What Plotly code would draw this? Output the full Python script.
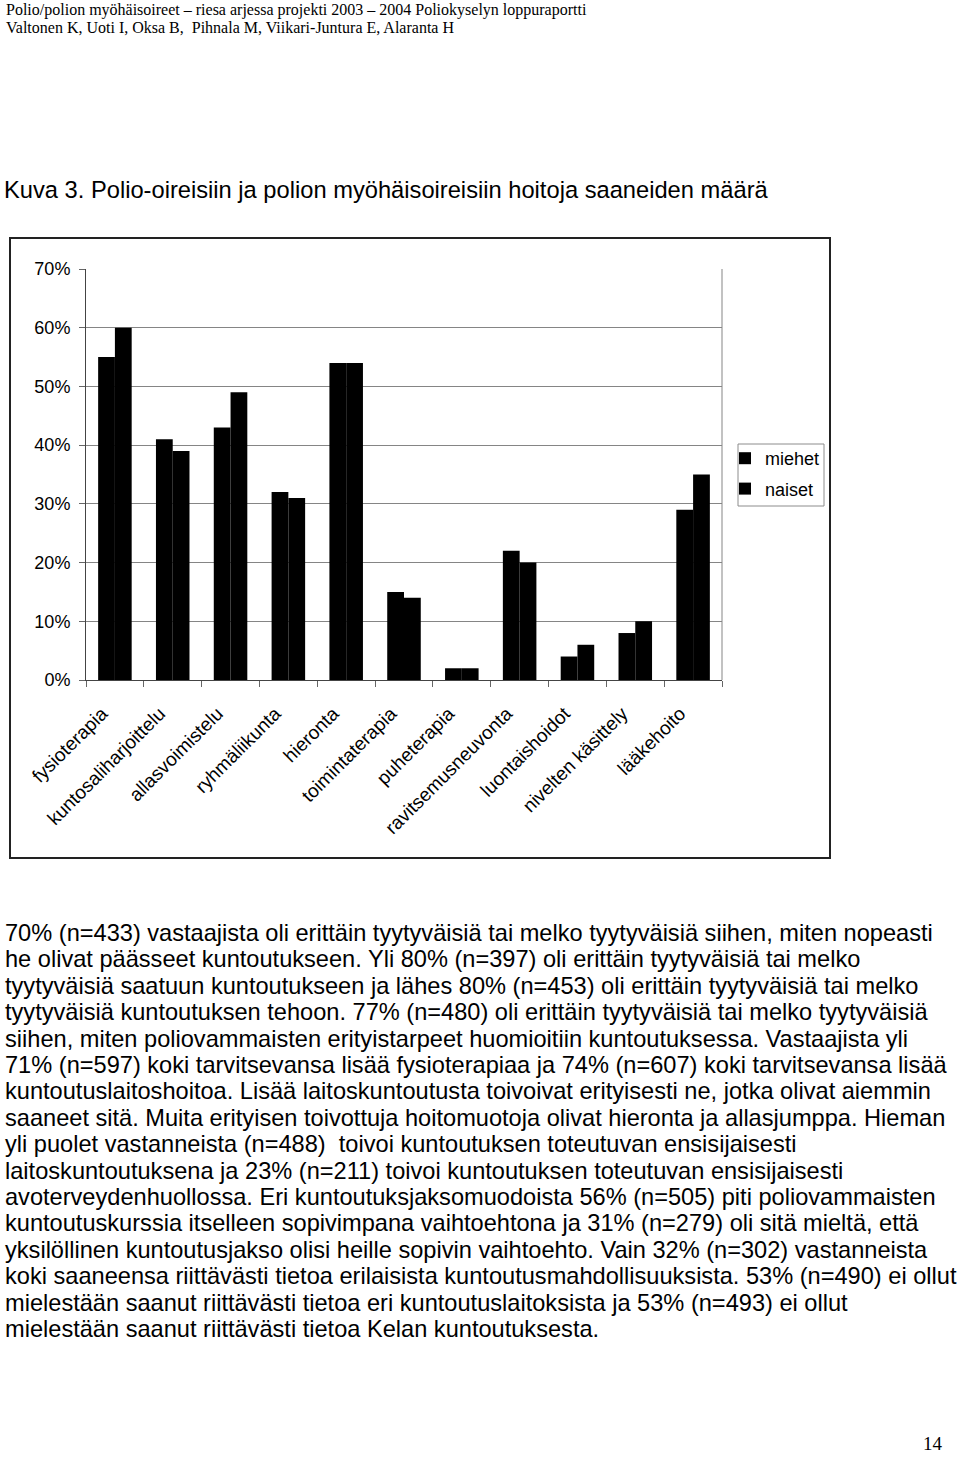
import plotly.graph_objects as go

W, H = 960, 1459

categories = ["fysioterapia", "kuntosaliharjoittelu", "allasvoimistelu", "ryhmäliikunta",
              "hieronta", "toimintaterapia", "puheterapia", "ravitsemusneuvonta",
              "luontaishoidot", "nivelten käsittely", "lääkehoito"]
miehet = [0.55, 0.41, 0.43, 0.32, 0.54, 0.15, 0.02, 0.22, 0.04, 0.08, 0.29]
naiset = [0.60, 0.39, 0.49, 0.31, 0.54, 0.14, 0.02, 0.20, 0.06, 0.10, 0.35]
y_ticks = [0, 0.1, 0.2, 0.3, 0.4, 0.5, 0.6, 0.7]

header_lines = [
    "Polio/polion myöhäisoireet – riesa arjessa projekti 2003 – 2004 Poliokyselyn loppuraportti",
    "Valtonen K, Uoti I, Oksa B,  Pihnala M, Viikari-Juntura E, Alaranta H",
]
caption = "Kuva 3. Polio-oireisiin ja polion myöhäisoireisiin hoitoja saaneiden määrä"
body_lines = [
    "70% (n=433) vastaajista oli erittäin tyytyväisiä tai melko tyytyväisiä siihen, miten nopeasti",
    "he olivat päässeet kuntoutukseen. Yli 80% (n=397) oli erittäin tyytyväisiä tai melko",
    "tyytyväisiä saatuun kuntoutukseen ja lähes 80% (n=453) oli erittäin tyytyväisiä tai melko",
    "tyytyväisiä kuntoutuksen tehoon. 77% (n=480) oli erittäin tyytyväisiä tai melko tyytyväisiä",
    "siihen, miten poliovammaisten erityistarpeet huomioitiin kuntoutuksessa. Vastaajista yli",
    "71% (n=597) koki tarvitsevansa lisää fysioterapiaa ja 74% (n=607) koki tarvitsevansa lisää",
    "kuntoutuslaitoshoitoa. Lisää laitoskuntoutusta toivoivat erityisesti ne, jotka olivat aiemmin",
    "saaneet sitä. Muita erityisen toivottuja hoitomuotoja olivat hieronta ja allasjumppa. Hieman",
    "yli puolet vastanneista (n=488)  toivoi kuntoutuksen toteutuvan ensisijaisesti",
    "laitoskuntoutuksena ja 23% (n=211) toivoi kuntoutuksen toteutuvan ensisijaisesti",
    "avoterveydenhuollossa. Eri kuntoutuksjaksomuodoista 56% (n=505) piti poliovammaisten",
    "kuntoutuskurssia itselleen sopivimpana vaihtoehtona ja 31% (n=279) oli sitä mieltä, että",
    "yksilöllinen kuntoutusjakso olisi heille sopivin vaihtoehto. Vain 32% (n=302) vastanneista",
    "koki saaneensa riittävästi tietoa erilaisista kuntoutusmahdollisuuksista. 53% (n=490) ei ollut",
    "mielestään saanut riittävästi tietoa eri kuntoutuslaitoksista ja 53% (n=493) ei ollut",
    "mielestään saanut riittävästi tietoa Kelan kuntoutuksesta.",
]
page_number = "14"

SANS = "Liberation Sans, Arial, sans-serif"
SERIF = "Liberation Serif, Times New Roman, serif"


def px(x):
    return x / W


def py(y):
    return 1 - y / H


fig = go.Figure()
fig.add_trace(go.Bar(name="miehet", x=categories, y=miehet, marker_color="black",
                     marker_line_width=0, legendgroup="m"))
fig.add_trace(go.Bar(name="naiset", x=categories, y=naiset, marker_color="black",
                     marker_line_width=0, legendgroup="n"))

plot_l, plot_r, plot_t, plot_b = 86, 722, 269, 680

fig.update_layout(
    width=W, height=H,
    margin=dict(l=0, r=0, t=0, b=0, autoexpand=False),
    paper_bgcolor="white", plot_bgcolor="white",
    barmode="group", bargap=0.42, bargroupgap=0,
    font=dict(family=SANS, color="black"),
    showlegend=True,
    legend=dict(x=px(725), y=py(440), xanchor="left", yanchor="top",
                bgcolor="rgba(0,0,0,0)", borderwidth=0,
                font=dict(family=SANS, size=18, color="black"),
                itemwidth=30, tracegroupgap=4),
    xaxis=dict(domain=[px(plot_l), px(plot_r)], tickangle=-45,
               tickfont=dict(family=SANS, size=19, color="black"),
               showline=True, linecolor="#444444", linewidth=1,
               ticks="outside", ticklen=6, tickcolor="#666666", tickson="boundaries",
               ticklabelstandoff=14, ticklabelshift=-13,
               showgrid=False, fixedrange=True, automargin=False),
    yaxis=dict(domain=[py(plot_b), py(plot_t)], range=[0, 0.7], tickvals=y_ticks,
               tickformat=".0%",
               tickfont=dict(family=SANS, size=18, color="black"),
               showline=True, linecolor="#444444", linewidth=1,
               ticks="outside", ticklen=6, tickcolor="#666666", ticklabelstandoff=5,
               showgrid=True, gridcolor="#858585", gridwidth=1,
               zeroline=False, fixedrange=True, automargin=False),
)

shapes = []
# right border of plot area
shapes.append(dict(type="line", xref="x domain", yref="y domain", x0=1, x1=1, y0=0, y1=1,
                   line=dict(color="#858585", width=1)))
# outer chart frame
shapes.append(dict(type="rect", xref="paper", yref="paper",
                   x0=px(10), x1=px(830), y0=py(858), y1=py(238),
                   line=dict(color="#222222", width=2), layer="below"))
# legend box
shapes.append(dict(type="rect", xref="paper", yref="paper",
                   x0=px(738), x1=px(824), y0=py(506), y1=py(444),
                   line=dict(color="#8c8c8c", width=1), layer="below"))
fig.update_layout(shapes=shapes)

ann = []
header_y = [10, 28]
for t, y in zip(header_lines, header_y):
    ann.append(dict(text=t, x=px(4), y=py(y), xref="paper", yref="paper",
                    xanchor="left", yanchor="middle", showarrow=False,
                    font=dict(family=SERIF, size=16, color="black")))
ann.append(dict(text=caption, x=px(2), y=py(190), xref="paper", yref="paper",
                xanchor="left", yanchor="middle", showarrow=False,
                font=dict(family=SANS, size=23.7, color="black")))
for i, t in enumerate(body_lines):
    y = 933 + i * 26.4
    ann.append(dict(text=t, x=px(3), y=py(y), xref="paper", yref="paper",
                    xanchor="left", yanchor="middle", showarrow=False,
                    font=dict(family=SANS, size=23.6, color="black")))
ann.append(dict(text=page_number, x=px(945), y=py(1443), xref="paper", yref="paper",
                xanchor="right", yanchor="middle", showarrow=False,
                font=dict(family=SERIF, size=19, color="black")))
fig.update_layout(annotations=ann)

fig.write_html("out.html", config={"displayModeBar": False})
